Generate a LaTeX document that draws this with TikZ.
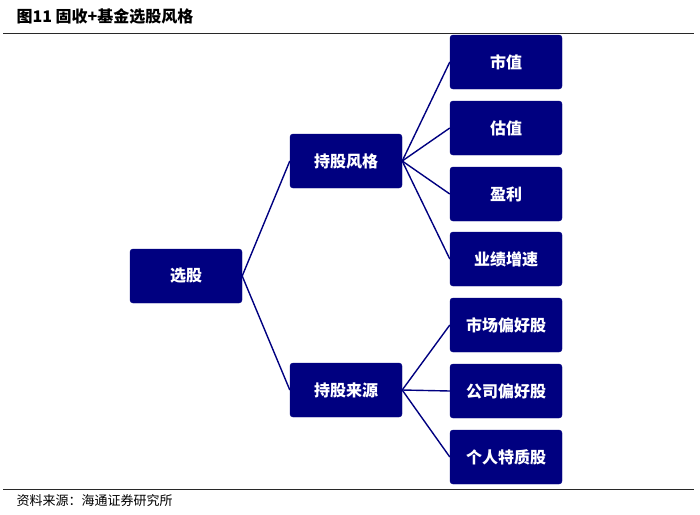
\documentclass[tikz,border=0pt]{standalone}
\usepackage{fontspec}
\newfontfamily\cjk{Noto Sans CJK SC}
\definecolor{boxblue}{RGB}{0,0,128}
\definecolor{rulegray}{RGB}{40,40,40}

\begin{document}
\begin{tikzpicture}[x=1pt,y=-1pt,
    stockbox/.style={draw=boxblue, fill=boxblue, rounded corners=3pt,
      minimum width=112pt, minimum height=54pt, inner sep=0pt,
      text=white, font=\cjk\bfseries\fontsize{16}{19}\selectfont},
    link/.style={draw=boxblue, line width=1.4pt}]
    \useasboundingbox (0,0) rectangle (700,514);

    % title and source
    \node[anchor=west, font=\cjk\bfseries\fontsize{16}{19}\selectfont] (title) at (13,16) {图11 固收+基金选股风格};
    \draw[rulegray, line width=1.8pt] (3,33.5) -- (694,33.5);
    \draw[rulegray, line width=1.8pt] (3,489.5) -- (694,489.5);
    \node[anchor=west, font=\cjk\fontsize{13}{16}\selectfont] (source) at (13,501) {资料来源：海通证券研究所};

    % tree
    \node[stockbox] (pick) at (186,276) {选股};
    \node[stockbox] (style) at (346,161) {持股风格};
    \node[stockbox] (origin) at (346,390) {持股来源};

    \node[stockbox] (s1) at (506,62) {市值};
    \node[stockbox] (s2) at (506,128) {估值};
    \node[stockbox] (s3) at (506,194) {盈利};
    \node[stockbox] (s4) at (506,259) {业绩增速};
    \node[stockbox] (o1) at (506,325) {市场偏好股};
    \node[stockbox] (o2) at (506,391) {公司偏好股};
    \node[stockbox] (o3) at (506,457) {个人特质股};

    \draw[link] (pick.east) -- (style.west);
    \draw[link] (pick.east) -- (origin.west);
    \foreach \k in {s1,s2,s3,s4}
      \draw[link] (style.east) -- (\k.west);
    \foreach \k in {o1,o2,o3}
      \draw[link] (origin.east) -- (\k.west);
\end{tikzpicture}
\end{document}
